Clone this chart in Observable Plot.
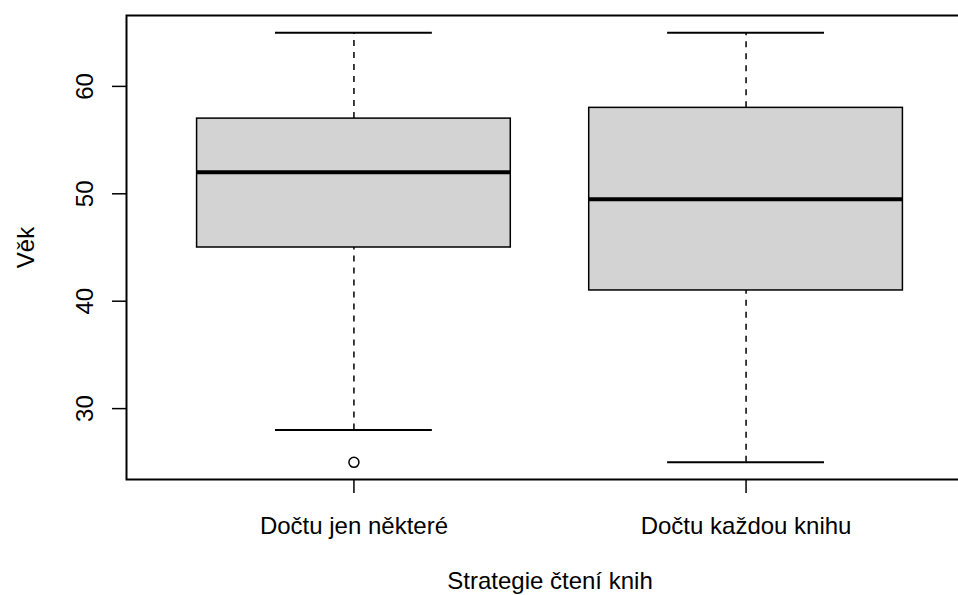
<!DOCTYPE html>
<html>
<head>
<meta charset="utf-8">
<script src="https://cdn.jsdelivr.net/npm/d3@7"></script>
<script src="https://cdn.jsdelivr.net/npm/@observablehq/plot@0.6"></script>
<style>
  html, body { margin: 0; padding: 0; background: #fff; overflow: hidden; }
  #chart { width: 958px; height: 595px; overflow: hidden; }
  #chart svg { max-width: none !important; width: 975px !important; height: 595px !important; }
</style>
</head>
<body>
<div id="chart"></div>
<script>
const groups = ["Dočtu jen některé", "Dočtu každou knihu"];
const whiskerLow = [28, 25];
const q1 = [45, 41];
const median = [52, 49.5];
const q3 = [57, 58];
const whiskerHigh = [65, 65];
const outlierGroup = [1];
const outlierValue = [25];
const yTicks = [30, 40, 50, 60];
const xTitle = "Strategie čtení knih";
const yTitle = "Věk";

const boxes = groups.map((g, i) => ({
  pos: i + 1, group: g, lo: whiskerLow[i], q1: q1[i], med: median[i], q3: q3[i], hi: whiskerHigh[i]
}));
const outliers = outlierGroup.map((p, i) => ({pos: p, value: outlierValue[i]}));

const font = "'Liberation Sans', Arial, sans-serif";
const fs = 24;

const chart = Plot.plot({
  width: 975,
  height: 595,
  marginLeft: 126,
  marginRight: 2,
  marginTop: 15,
  marginBottom: 116,
  style: {fontFamily: font, fontSize: fs + "px", background: "#fff", overflow: "visible", maxWidth: "none"},
  x: {type: "linear", domain: [0.42, 2.58], axis: null},
  y: {type: "linear", domain: [23.4, 66.6], axis: null},
  marks: [
    Plot.ruleX(boxes, {x: "pos", y1: "q3", y2: "hi", stroke: "black", strokeWidth: 1.5, strokeDasharray: "6,6"}),
    Plot.ruleX(boxes, {x: "pos", y1: "lo", y2: "q1", stroke: "black", strokeWidth: 1.5, strokeDasharray: "6,6"}),
    Plot.ruleY(boxes, {y: "hi", x1: d => d.pos - 0.2, x2: d => d.pos + 0.2, stroke: "black", strokeWidth: 2}),
    Plot.ruleY(boxes, {y: "lo", x1: d => d.pos - 0.2, x2: d => d.pos + 0.2, stroke: "black", strokeWidth: 2}),
    Plot.rect(boxes, {x1: d => d.pos - 0.4, x2: d => d.pos + 0.4, y1: "q1", y2: "q3", fill: "#d3d3d3", stroke: "black", strokeWidth: 1.5}),
    Plot.ruleY(boxes, {y: "med", x1: d => d.pos - 0.4, x2: d => d.pos + 0.4, stroke: "black", strokeWidth: 4}),
    Plot.dot(outliers, {x: "pos", y: "value", r: 5, stroke: "black", strokeWidth: 1.5, fill: "none"}),
    Plot.frame({stroke: "black", strokeWidth: 2}),
    Plot.axisY({ticks: yTicks, tickSize: 14, tickFormat: () => "", strokeWidth: 1.5, label: null}),
    Plot.text(yTicks, {y: d => d, text: d => String(d), frameAnchor: "left", dx: -34, rotate: -90,
      textAnchor: "middle", lineAnchor: "bottom", fontSize: fs, fill: "black"}),
    Plot.axisX({ticks: [1, 2], tickSize: 14, tickPadding: 23, tickFormat: d => groups[d - 1],
      fontSize: fs, strokeWidth: 1.5, label: null}),
    Plot.text([xTitle], {text: d => d, frameAnchor: "bottom", dy: 109, lineAnchor: "bottom",
      textAnchor: "middle", fontSize: fs, fill: "black"}),
    Plot.text([yTitle], {text: d => d, frameAnchor: "left", dx: -93, rotate: -90, lineAnchor: "bottom",
      textAnchor: "middle", fontSize: fs, fill: "black"})
  ]
});
document.getElementById("chart").appendChild(chart);
</script>
</body>
</html>
